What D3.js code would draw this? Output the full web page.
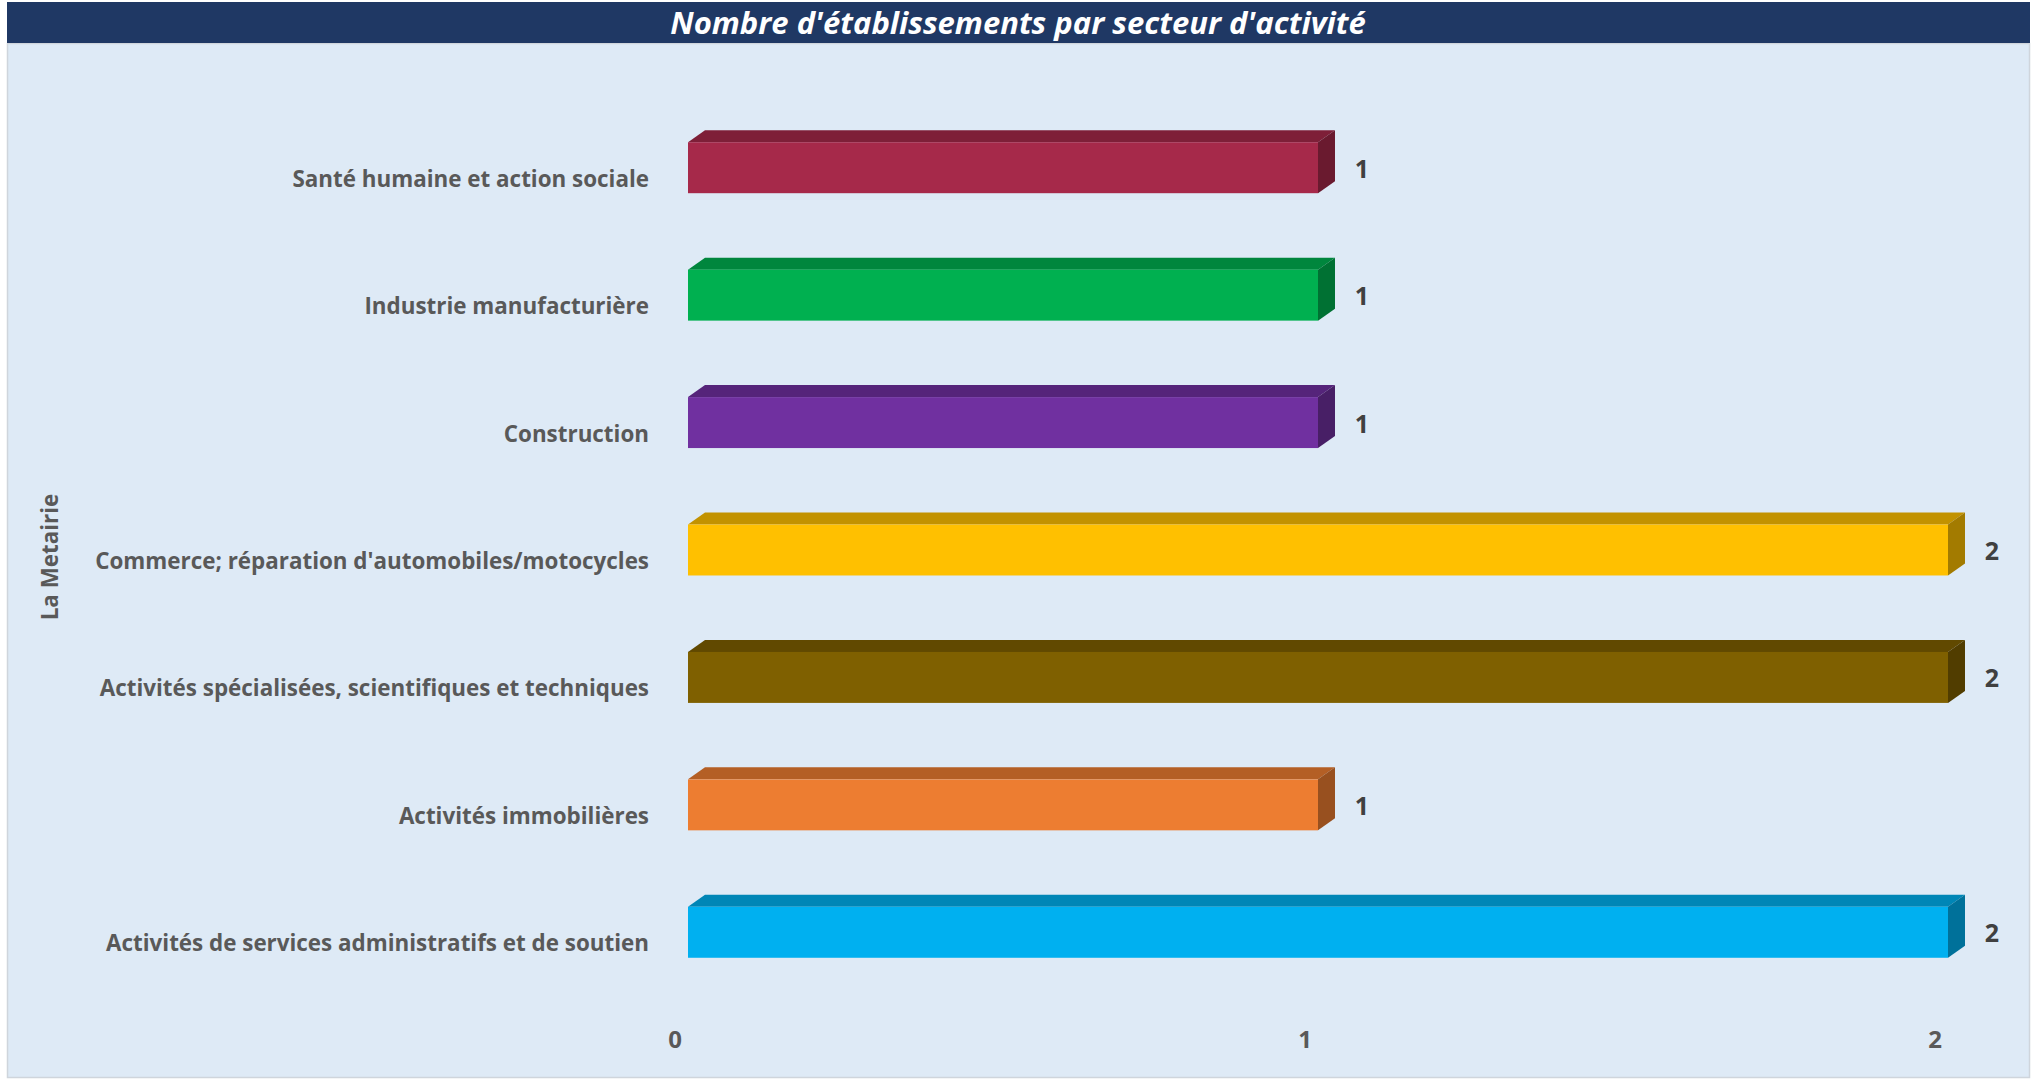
<!DOCTYPE html>
<html>
<head>
<meta charset="utf-8">
<script src="https://cdn.jsdelivr.net/npm/d3@7"></script>
<style>
  html, body { margin: 0; padding: 0; background: #ffffff; }
  svg { display: block; font-family: "Open Sans", "Noto Sans", sans-serif; }
</style>
</head>
<body>
<div id="chart"><svg></svg></div>
<script>
// chart data, bottom to top as drawn
var categories = [
  "Activités de services administratifs et de soutien",
  "Activités immobilières",
  "Activités spécialisées, scientifiques et techniques",
  "Commerce; réparation d'automobiles/motocycles",
  "Construction",
  "Industrie manufacturière",
  "Santé humaine et action sociale"
];
var values = [2, 1, 2, 2, 1, 1, 1];
var frontColors = ["#00B0F0", "#ED7D31", "#7F6000", "#FFC000", "#7030A0", "#00B050", "#A6294A"];
var xTicks = [0, 1, 2];
var chartTitle = "Nombre d'établissements par secteur d'activité";
var groupLabel = "La Metairie";

var width = 2033, height = 1080;
var svg = d3.select("#chart svg").attr("width", width).attr("height", height);

// depth of the fake 3D bars
var dx = 17, dy = -12;

// background + title band
svg.append("rect")
  .attr("x", 7.5).attr("y", 43.5)
  .attr("width", 2022).attr("height", 1034)
  .style("fill", "#DEEAF6")
  .style("stroke", "#CFD5DC")
  .style("stroke-width", 1.5);

svg.append("rect")
  .attr("x", 7).attr("y", 2)
  .attr("width", 2023).attr("height", 41)
  .style("fill", "#1F3864");

svg.append("text")
  .attr("x", 1018).attr("y", 34)
  .attr("text-anchor", "middle")
  .style("font-size", "31px")
  .style("font-weight", "bold")
  .style("font-style", "italic")
  .style("fill", "#ffffff")
  .text(chartTitle);

var x = d3.scaleLinear().domain([0, 2]).range([688, 1948]);

var y = d3.scaleBand()
  .domain(categories)
  .range([996, 104])
  .paddingInner(0.6)
  .paddingOuter(0.3);

var g = svg.append("g").attr("class", "bars");

var bars = g.selectAll("g.bar")
  .data(categories)
  .enter().append("g")
    .attr("class", "bar");

function shade(c, k) {
  var col = d3.rgb(c);
  return d3.rgb(col.r * k, col.g * k, col.b * k).formatHex();
}

// top face
bars.append("path")
  .attr("d", function(d, i) {
    var x0 = x(0), x1 = x(values[i]), y0 = y(d);
    return "M" + x0 + "," + y0 + "L" + (x0 + dx) + "," + (y0 + dy) +
      "L" + (x1 + dx) + "," + (y0 + dy) + "L" + x1 + "," + y0 + "Z";
  })
  .style("fill", function(d, i) { return shade(frontColors[i], 0.76); });

// side face
bars.append("path")
  .attr("d", function(d, i) {
    var x1 = x(values[i]), y0 = y(d), y1 = y(d) + y.bandwidth();
    return "M" + x1 + "," + y0 + "L" + (x1 + dx) + "," + (y0 + dy) +
      "L" + (x1 + dx) + "," + (y1 + dy) + "L" + x1 + "," + y1 + "Z";
  })
  .style("fill", function(d, i) { return shade(frontColors[i], 0.64); });

// front face
bars.append("rect")
  .attr("x", x(0))
  .attr("y", function(d) { return y(d); })
  .attr("width", function(d, i) { return x(values[i]) - x(0); })
  .attr("height", y.bandwidth())
  .style("fill", function(d, i) { return frontColors[i]; });

// value labels
bars.append("text")
  .attr("x", function(d, i) { return x(values[i]) + 44; })
  .attr("y", function(d) { return y(d) + y.bandwidth() / 2 + 10; })
  .attr("text-anchor", "middle")
  .style("font-size", "25px")
  .style("font-weight", "bold")
  .style("fill", "#404040")
  .text(function(d, i) { return values[i]; });

// category labels
svg.append("g").selectAll("text")
  .data(categories)
  .enter().append("text")
    .attr("x", 649)
    .attr("y", function(d) { return y(d) + y.bandwidth() / 2 + 19; })
    .attr("text-anchor", "end")
    .style("font-size", "22.4px")
    .style("font-weight", "bold")
    .style("fill", "#595959")
    .text(function(d) { return d; });

// x tick labels
svg.append("g").selectAll("text")
  .data(xTicks)
  .enter().append("text")
    .attr("x", function(d) { return x(d) - 13; })
    .attr("y", 1048)
    .attr("text-anchor", "middle")
    .style("font-size", "24px")
    .style("font-weight", "bold")
    .style("fill", "#595959")
    .text(function(d) { return d; });

// axis title
svg.append("text")
  .attr("transform", "translate(58,557) rotate(-90)")
  .attr("text-anchor", "middle")
  .style("font-size", "22.4px")
  .style("font-weight", "bold")
  .style("fill", "#595959")
  .text(groupLabel);
</script>
</body>
</html>
